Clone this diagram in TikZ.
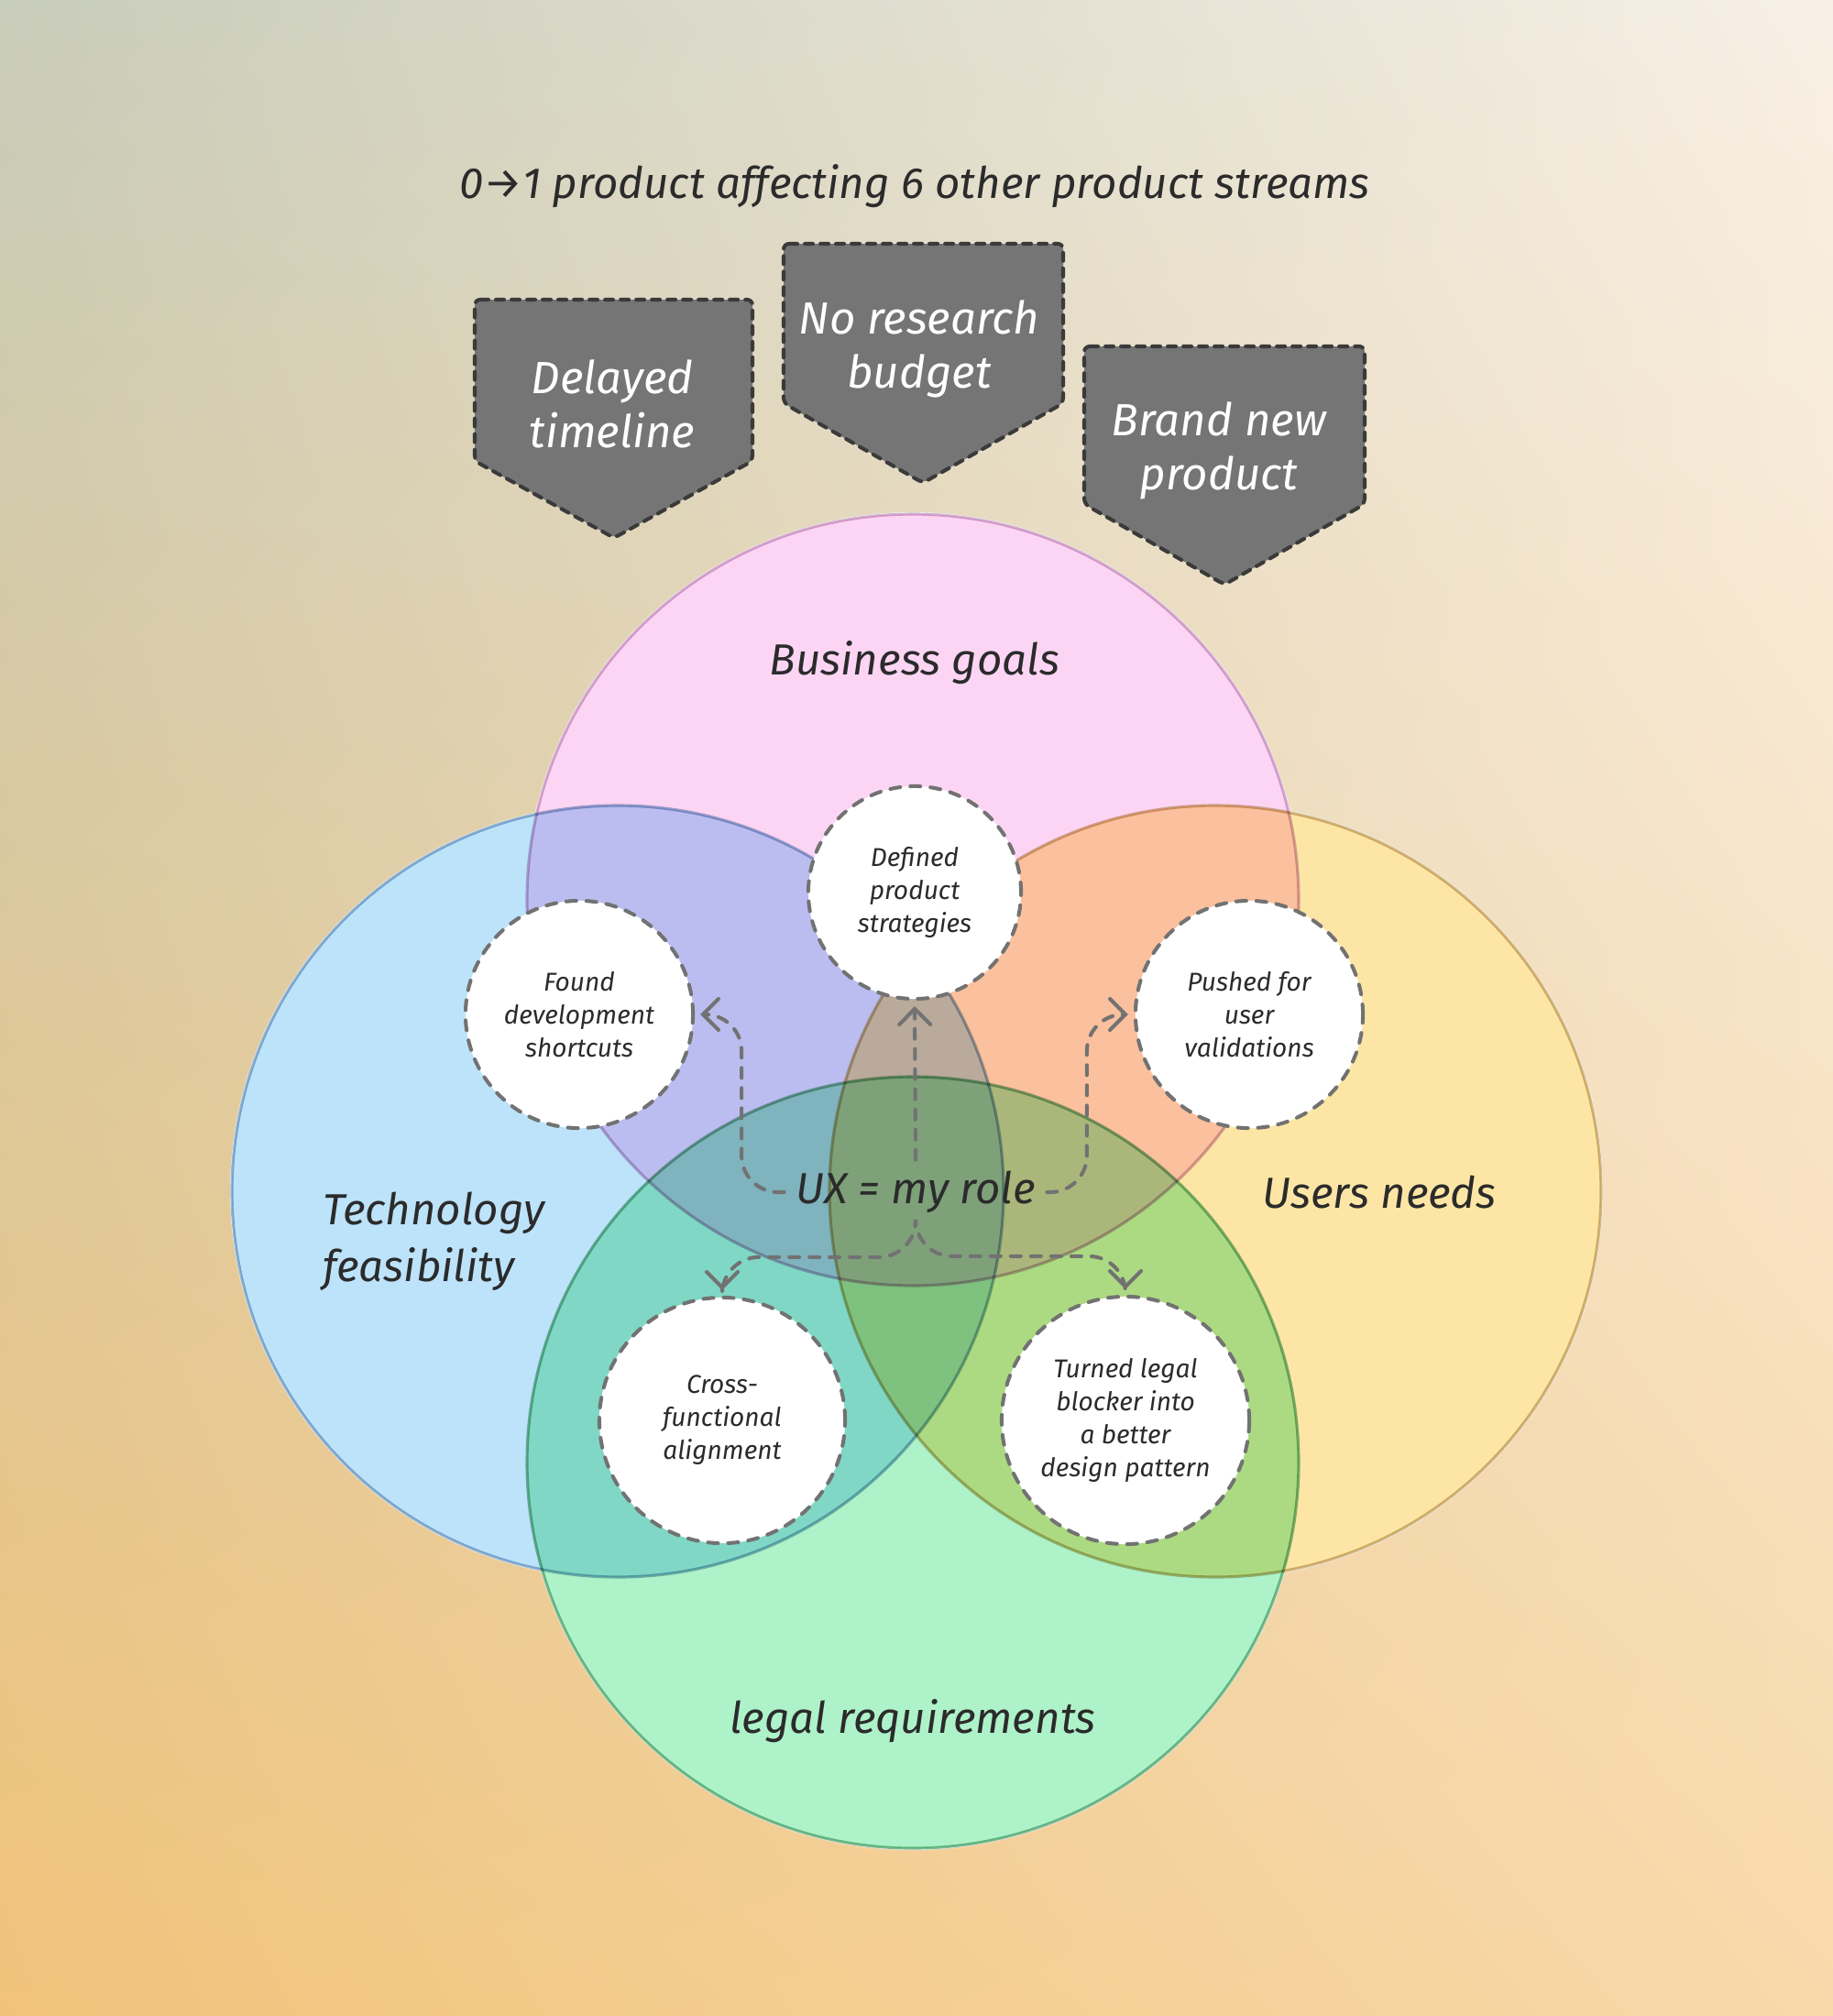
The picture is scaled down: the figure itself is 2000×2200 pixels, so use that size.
\documentclass[tikz,border=0pt]{standalone}
\usepackage{fontspec}
\setmainfont{Fira Sans}
\usetikzlibrary{shadings,arrows.meta}

\definecolor{bgtl}{HTML}{C8CCBA}
\definecolor{bgtr}{HTML}{F8F0E5}
\definecolor{bgbl}{HTML}{F1C37A}
\definecolor{bgbr}{HTML}{F8D9AA}
\definecolor{bizfill}{HTML}{FDD5F4}
\definecolor{bizline}{HTML}{D3B3D0}
\definecolor{techfill}{HTML}{BDE3FB}
\definecolor{techline}{HTML}{9CB6CF}
\definecolor{userfill}{HTML}{FDE6A5}
\definecolor{userline}{HTML}{D0BA8E}
\definecolor{legalfill}{HTML}{AEF2C9}
\definecolor{legalline}{HTML}{86BC9A}
\definecolor{ink}{HTML}{2B2B2B}
\definecolor{dashgray}{HTML}{727272}
\definecolor{tagfill}{HTML}{757575}
\definecolor{tagline}{HTML}{3A3A3A}

\tikzset{
  headline/.style={font=\fontsize{13.5}{17.5}\selectfont\itshape, text=ink, align=center},
  setname/.style={headline},
  tagbox/.style={draw=tagline, fill=tagfill, line width=1.15pt, line cap=round,
    dash pattern=on 0.09cm off 0.08cm, rounded corners=0.06cm},
  tagtext/.style={font=\fontsize{14}{16.8}\selectfont\itshape, text=white, align=center},
  venn/.style={line width=0.9pt},
  outcome/.style={circle, draw=dashgray, fill=white, line width=1.15pt, line cap=round,
    dash pattern=on 0.11cm off 0.11cm, inner sep=0pt, align=center, text=ink,
    font=\fontsize{8}{10.2}\selectfont\itshape},
  flowline/.style={draw=dashgray, line width=1.15pt, line cap=round,
    dash pattern=on 0.11cm off 0.11cm, rounded corners=0.4cm, shorten >=0.06cm,
    -{Straight Barb[length=0.17cm,width=0.34cm,line cap=round]}},
}

\begin{document}
\begin{tikzpicture}[x=0.01cm, y=-0.01cm]
  % background
  \shade[upper left=bgtl, upper right=bgtr, lower left=bgbl, lower right=bgbr]
    (0,0) rectangle (2000,2200);

  \node[headline] (title) at (998,203) {0→1 product affecting 6 other product streams};

  % constraints
  \draw[tagbox] (518,327) -- (821,327) -- (821,503) -- (670,587) -- (518,503) -- cycle;
  \draw[tagbox] (855,266) -- (1160,266) -- (1160,440) -- (1007,527) -- (855,440) -- cycle;
  \draw[tagbox] (1183,378) -- (1489,378) -- (1489,550) -- (1336,638) -- (1183,550) -- cycle;
  \node[tagtext] (delay)  at (668,441)  {Delayed\\timeline};
  \node[tagtext] (budget) at (1003,381) {No research\\budget};
  \node[tagtext] (brand)  at (1330,492) {Brand new\\product};

  % venn
  \foreach \cx/\cy in {996/982, 674/1300, 1326/1300, 996/1596}
    \fill[white] (\cx,\cy) circle[radius=423];
  \begin{scope}[blend mode=multiply]
    \draw[venn, fill=bizfill, draw=bizline]     (996,982)  circle[radius=421];
    \draw[venn, fill=techfill, draw=techline]   (674,1300) circle[radius=421];
    \draw[venn, fill=userfill, draw=userline]   (1326,1300) circle[radius=421];
    \draw[venn, fill=legalfill, draw=legalline] (996,1596) circle[radius=421];
  \end{scope}

  \node[setname] (biz)   at (998,723)  {Business goals};
  \node[setname, anchor=west, align=left] (tech) at (340,1355) {Technology\\feasibility};
  \node[setname] (users) at (1505,1301) {Users needs};
  \node[setname] (legal) at (996,1878) {legal requirements};
  \node[setname] (ux)    at (999,1301) {UX = my role};

  % outcomes
  \node[outcome, minimum size=2.32cm] (defined) at (998,974)   {Defined\\product\\strategies};
  \node[outcome, minimum size=2.48cm] (found)   at (632,1107)  {Found\\development\\shortcuts};
  \node[outcome, minimum size=2.48cm] (pushed)  at (1363,1107) {Pushed for\\user\\validations};
  \node[outcome, minimum size=2.68cm] (cross)   at (788,1550)  {Cross-\\functional\\alignment};
  \node[outcome, minimum size=2.70cm] (turned)  at (1228,1550) {Turned legal\\blocker into\\a better\\design pattern};

  \draw[flowline] (ux.north) -- (defined.south);
  \draw[flowline] (ux.west) -| ([xshift=0.51cm]found.east) -- (found.east);
  \draw[flowline] (ux.east) -| ([xshift=-0.51cm]pushed.west) -- (pushed.west);
  \draw[flowline] (ux.south) |- ([yshift=0.42cm]cross.north) -- (cross.north);
  \draw[flowline] (ux.south) |- ([yshift=0.42cm]turned.north) -- (turned.north);
\end{tikzpicture}
\end{document}
